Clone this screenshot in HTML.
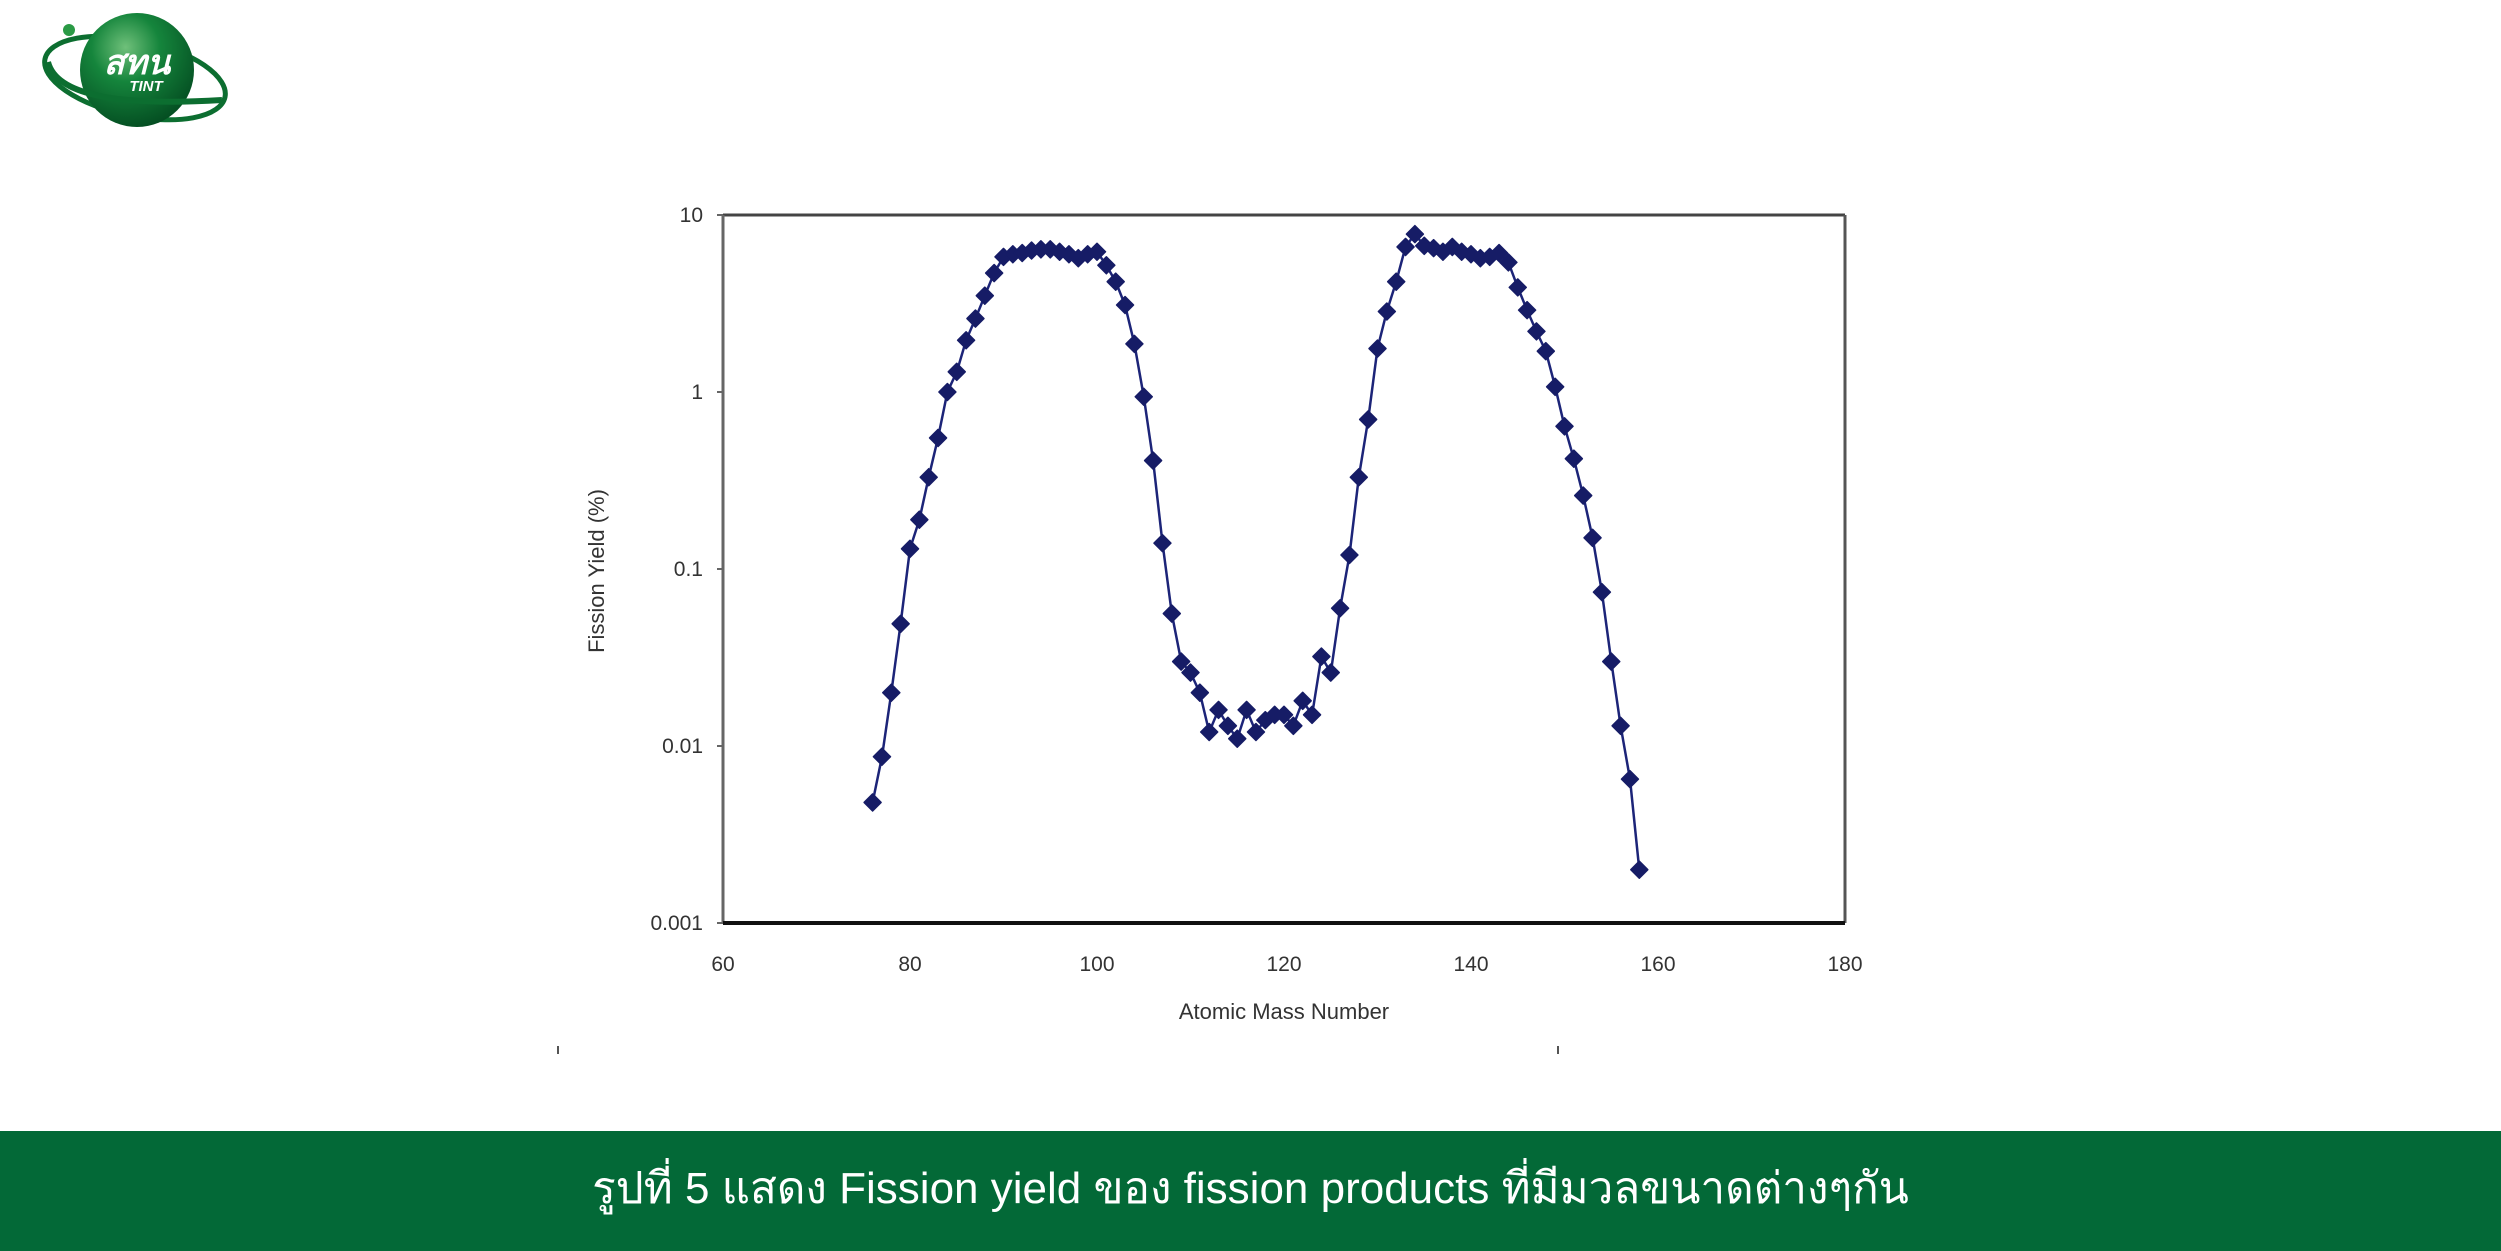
<!DOCTYPE html>
<html><head><meta charset="utf-8"><style>
html,body{margin:0;padding:0;background:#fff;}
body{width:2501px;height:1251px;position:relative;overflow:hidden;font-family:"Liberation Sans","Noto Sans CJK SC",sans-serif;}
#band{position:absolute;left:0;top:1131px;width:2501px;height:120px;background:#036937;}
#caption{position:absolute;left:0;top:1131px;width:2501px;height:120px;line-height:116px;text-align:center;color:#fff;font-size:44px;font-family:"Liberation Sans","Noto Sans CJK SC",sans-serif;}
svg{position:absolute;left:0;top:0;}
</style></head><body>
<div id="band"></div>
<div id="caption">รูปที่ 5 แสดง Fission yield ของ fission products ที่มีมวลขนาดต่างๆกัน</div>
<svg width="260" height="150">
<defs><radialGradient id="g1" cx="0.4" cy="0.3" r="0.75"><stop offset="0" stop-color="#6fc07a"/><stop offset="0.4" stop-color="#15853c"/><stop offset="1" stop-color="#034a20"/></radialGradient></defs>
<ellipse cx="135" cy="78" rx="92" ry="38" transform="rotate(12 135 78)" fill="none" stroke="#0c6e30" stroke-width="5"/>
<circle cx="137" cy="70" r="57" fill="url(#g1)"/>
<path d="M48 62 Q60 110 222 100" fill="none" stroke="#0c6e30" stroke-width="6"/>
<circle cx="69" cy="30" r="6" fill="#2a9a45"/>
<text x="137" y="74" text-anchor="middle" fill="#fff" font-size="34" font-weight="bold" font-style="italic" font-family="Liberation Sans, Noto Sans CJK SC, sans-serif">สทน</text>
<text x="146" y="91" text-anchor="middle" fill="#fff" font-size="15" font-weight="bold" font-style="italic">TINT</text>
</svg>
<svg id="chart" width="2501" height="1131"></svg>
<script>
const massNumbers=[76,77,78,79,80,81,82,83,84,85,86,87,88,89,90,91,92,93,94,95,96,97,98,99,100,101,102,103,104,105,106,107,108,109,110,111,112,113,114,115,116,117,118,119,120,121,122,123,124,125,126,127,128,129,130,131,132,133,134,135,136,137,138,139,140,141,142,143,144,145,146,147,148,149,150,151,152,153,154,155,156,157,158];
const yieldValues=[0.0048,0.0087,0.020,0.049,0.13,0.19,0.33,0.55,1.0,1.3,1.96,2.6,3.5,4.7,5.8,6.0,6.1,6.3,6.4,6.4,6.2,6.0,5.7,6.0,6.2,5.2,4.2,3.1,1.87,0.94,0.41,0.14,0.056,0.030,0.026,0.020,0.012,0.016,0.013,0.011,0.016,0.012,0.014,0.015,0.015,0.013,0.018,0.015,0.032,0.026,0.060,0.12,0.33,0.70,1.76,2.85,4.2,6.6,7.8,6.7,6.5,6.2,6.6,6.2,6.0,5.7,5.8,6.1,5.4,3.9,2.9,2.2,1.7,1.07,0.64,0.42,0.26,0.15,0.074,0.030,0.013,0.0065,0.0020];
const xTicks=[60,80,100,120,140,160,180];
const yTicks=[0.001,0.01,0.1,1,10];
const yTickLabels=["0.001","0.01","0.1","1","10"];
const NS='http://www.w3.org/2000/svg';
const svg=document.getElementById('chart');
const L=723,R=1845,T=215,B=923;
const xMin=60,xMax=180,yMinLog=-3,yMaxLog=1;
function xs(v){return L+(v-xMin)/(xMax-xMin)*(R-L);}
function ys(v){return B-(Math.log10(v)-yMinLog)/(yMaxLog-yMinLog)*(B-T);}
function mk(tag,attrs){const e=document.createElementNS(NS,tag);for(const k in attrs)e.setAttribute(k,attrs[k]);svg.appendChild(e);return e;}
let e;
e=mk('line',{x1:L,y1:T,x2:R,y2:T,stroke:'#444','stroke-width':3});


e=mk('line',{x1:R,y1:T,x2:R,y2:B,stroke:'#555','stroke-width':3});


e=mk('line',{x1:L,y1:T,x2:L,y2:B,stroke:'#666','stroke-width':3});


e=mk('line',{x1:L,y1:B,x2:R,y2:B,stroke:'#111','stroke-width':4});


yTicks.forEach((v,i)=>{
  const t=mk('text',{x:L-20,y:ys(v)+7,'text-anchor':'end','font-size':21,fill:'#333'});
  t.textContent=yTickLabels[i];
  
  
  const tk=mk('line',{x1:L-6,y1:ys(v),x2:L,y2:ys(v),stroke:'#666','stroke-width':2});
  
  
});
xTicks.forEach(v=>{
  const t=mk('text',{x:xs(v),y:971,'text-anchor':'middle','font-size':21,fill:'#333'});
  t.textContent=String(v);
  
  
});
e=mk('text',{x:(L+R)/2,y:1019,'text-anchor':'middle','font-size':22,fill:'#333'});
e.textContent='Atomic Mass Number';


e=mk('text',{x:604,y:571,'text-anchor':'middle','font-size':22,fill:'#333',transform:'rotate(-90 604 571)'});
e.textContent='Fission Yield (%)';


const pts=massNumbers.map((m,i)=>xs(m).toFixed(1)+','+ys(yieldValues[i]).toFixed(1)).join(' ');
e=mk('polyline',{points:pts,fill:'none',stroke:'#1c2478','stroke-width':2.5});


massNumbers.forEach((m,i)=>{
  const x=xs(m),y=ys(yieldValues[i]),s=8.5;
  const p=mk('polygon',{points:`${x},${y-s} ${x+s},${y} ${x},${y+s} ${x-s},${y}`,fill:'#161c66','stroke':'#161c66','stroke-width':1.5,'stroke-linejoin':'round'});
  
  
});
e=mk('rect',{x:557,y:1046,width:2,height:8,fill:'#555'});


e=mk('rect',{x:1557,y:1046,width:2,height:8,fill:'#555'});


</script>
</body></html>
